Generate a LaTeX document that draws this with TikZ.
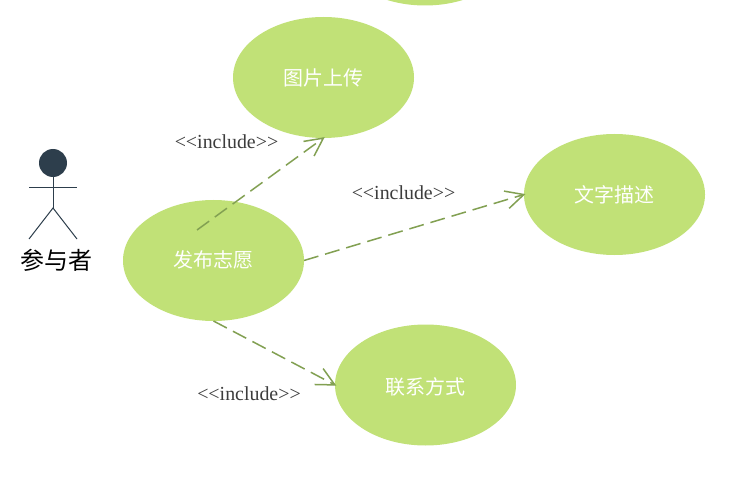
\documentclass[tikz,border=0pt]{standalone}
\usepackage{fontspec}
\setmainfont{Liberation Serif}[Ligatures=NoCommon]
\newfontfamily\cjk{Noto Sans CJK SC}
\usetikzlibrary{shapes.geometric,arrows.meta}
\definecolor{usecase}{HTML}{C1E177}
\definecolor{linkc}{HTML}{82A052}
\definecolor{actorc}{HTML}{2D3E4C}
\definecolor{labelc}{HTML}{3C3C3C}
\newcommand{\inclabel}{{<}\kern0pt{<}include{>}\kern0pt{>}}
\newcommand{\casetext}[2]{\raisebox{\dimexpr-7.6pt-#1pt\relax}[0pt][0pt]{#2}}
\tikzset{
  x=1pt,y=-1pt,
  usecasebox/.style={ellipse,fill=usecase,draw=none,minimum width=181pt,minimum height=121pt,inner sep=0pt,outer sep=0pt,text=white,font=\cjk\fontsize{20}{22}\selectfont},
  includelink/.style={draw=linkc,line width=1.5pt,shorten >=-1.5pt,dash pattern=on 15pt off 7pt,-{Straight Barb[length=18pt,width=18pt,line width=1.5pt]}},
  includelabel/.style={text=labelc,font=\fontsize{19.9}{22}\selectfont,inner sep=0pt},
  actorline/.style={draw=actorc,line width=1pt},
  actorhead/.style={circle,fill=actorc,draw=none,minimum size=28pt,inner sep=0pt,outer sep=0pt},
  actorlabel/.style={text=black,font=\cjk\fontsize{24}{26}\selectfont,inner sep=0pt}
}
\begin{document}
\begin{tikzpicture}
\useasboundingbox (0,0) rectangle (730,478);
\fill[white] (0,0) rectangle (730,478);
\node[usecasebox] (top) at (425,-55) {};
\node[usecasebox] (tupian) at (323.5,77.5) {\casetext{0.5}{图片上传}};
\node[usecasebox] (wenzi) at (614.5,194.5) {\casetext{0.5}{文字描述}};
\node[usecasebox] (fabu) at (213.5,260.5) {\casetext{-0.5}{发布志愿}};
\node[usecasebox] (lianxi) at (425.5,385) {\casetext{2}{联系方式}};
\coordinate (fabuinner) at (197,230);
\coordinate (tupiantip) at (323.5,138);
\draw[includelink] (fabuinner) -- (tupiantip);
\draw[includelink] (fabu.east) -- (wenzi.west);
\draw[includelink] (fabu.south) -- (lianxi.west);
\node[includelabel] (inc1) at (226.5,142) {\inclabel};
\node[includelabel] (inc2) at (403.5,193) {\inclabel};
\node[includelabel] (inc3) at (249,394) {\inclabel};
\node[actorhead] (head) at (53,163) {};
\coordinate (hip) at (53,208);
\coordinate (armL) at (29,188);
\coordinate (armR) at (77,188);
\coordinate (legL) at (29,239);
\coordinate (legR) at (77,239);
\draw[actorline] (head.south) -- (hip);
\draw[actorline] (armL) -- (armR);
\draw[actorline] (legL) -- (hip) -- (legR);
\node[actorlabel] (actor) at (56,260) {参与者};
\end{tikzpicture}
\end{document}
